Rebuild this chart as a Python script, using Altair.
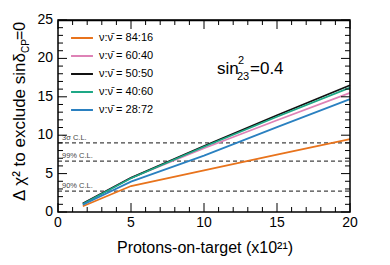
import altair as alt
import pandas as pd

# ---- data ----
pot = [1.7, 5.0, 10.0, 15.0, 20.0]
ratios = ["84:16", "60:40", "50:50", "40:60", "28:72"]
colors = ["#e8731c", "#de82b6", "#111111", "#1ea886", "#2a80c0"]
chi2 = {
    "84:16": [0.75, 3.38, 5.42, 7.46, 9.5],
    "60:40": [1.1, 4.45, 8.3, 11.95, 15.5],
    "50:50": [1.1, 4.45, 8.6, 12.6, 16.5],
    "40:60": [1.05, 4.4, 8.5, 12.4, 16.2],
    "28:72": [0.95, 3.95, 7.35, 11.05, 14.7],
}
cl_values = [9.0, 6.63, 2.71]
cl_labels = ["3σ C.L.", "99% C.L.", "90% C.L."]
x_ticks = list(range(0, 21))
y_ticks = list(range(0, 26))
x_labels = [0, 5, 10, 15, 20]
y_labels = [0, 5, 10, 15, 20, 25]

FONT = "Liberation Sans"
W, H = 292, 192

labels = ["ν:ν\u0304 = " + r for r in ratios]
rows = []
for r, lab in zip(ratios, labels):
    for x, y in zip(pot, chi2[r]):
        rows.append({"pot": x, "chi2": y, "series": lab})
df = pd.DataFrame(rows)

xs = alt.Scale(domain=[0, 20], nice=False, zero=False)
ys = alt.Scale(domain=[0, 25], nice=False, zero=False)

lines = alt.Chart(df).mark_line(strokeWidth=1.8).encode(
    x=alt.X("pot:Q", scale=xs, axis=None),
    y=alt.Y("chi2:Q", scale=ys, axis=None),
    color=alt.Color("series:N", scale=alt.Scale(domain=labels, range=colors),
                    legend=alt.Legend(orient="none", legendX=12, legendY=6, title=None,
                                      symbolType="stroke", symbolSize=480, symbolStrokeWidth=2,
                                      labelFontSize=11, labelFont=FONT, labelColor="black",
                                      rowPadding=1, padding=0, symbolOffset=0, labelOffset=5)),
    order=alt.Order("series:N"),
)

cl_df = pd.DataFrame({"v": cl_values, "lab": cl_labels})
cl_rules = alt.Chart(cl_df).mark_rule(strokeDash=[4, 3], strokeWidth=1.2, color="#444").encode(
    y=alt.Y("v:Q", scale=ys, axis=None), x=alt.value(0), x2=alt.value(W))
cl_text = alt.Chart(cl_df).mark_text(align="left", baseline="bottom", fontSize=7.5, font=FONT,
                                      color="#444", dx=4, dy=-1).encode(
    y=alt.Y("v:Q", scale=ys, axis=None), x=alt.value(0), text="lab:N")

xt = pd.DataFrame({"t": x_ticks, "major": [t % 5 == 0 for t in x_ticks]})
yt = pd.DataFrame({"t": y_ticks, "major": [t % 5 == 0 for t in y_ticks]})
tick_layers = []
for major, ln in [(True, 9), (False, 5)]:
    xd = alt.Chart(xt).transform_filter(alt.datum.major == major)
    yd = alt.Chart(yt).transform_filter(alt.datum.major == major)
    tick_layers += [
        xd.mark_rule(color="black", strokeWidth=1).encode(
            x=alt.X("t:Q", scale=xs, axis=None), y=alt.value(H), y2=alt.value(H - ln)),
        xd.mark_rule(color="black", strokeWidth=1).encode(
            x=alt.X("t:Q", scale=xs, axis=None), y=alt.value(0.5), y2=alt.value(ln)),
        yd.mark_rule(color="black", strokeWidth=1).encode(
            y=alt.Y("t:Q", scale=ys, axis=None), x=alt.value(0), x2=alt.value(ln)),
        yd.mark_rule(color="black", strokeWidth=1).encode(
            y=alt.Y("t:Q", scale=ys, axis=None), x=alt.value(W), x2=alt.value(W - ln)),
    ]

xl = pd.DataFrame({"v": x_labels})
yl = pd.DataFrame({"v": y_labels})
x_lab = alt.Chart(xl).mark_text(baseline="top", align="center", fontSize=14, font=FONT,
                                color="black").encode(
    x=alt.X("v:Q", scale=xs, axis=None), y=alt.value(H + 4), text=alt.Text("v:Q"))
y_lab = alt.Chart(yl).mark_text(baseline="middle", align="right", fontSize=14, font=FONT,
                                color="black").encode(
    y=alt.Y("v:Q", scale=ys, axis=None), x=alt.value(-5), text=alt.Text("v:Q"))

frame_top = alt.Chart(pd.DataFrame({"a": [0]})).mark_rule(color="black", strokeWidth=1.5).encode(
    x=alt.value(0), x2=alt.value(W), y=alt.value(0.5))
frame = alt.Chart(pd.DataFrame({"a": [0]})).mark_rect(
    fillOpacity=0, stroke="black", strokeWidth=1.5).encode(
    x=alt.value(0), x2=alt.value(W), y=alt.value(0), y2=alt.value(H))

def txt(s, x, y, size, angle=0, align="left"):
    return alt.Chart(pd.DataFrame({"s": [s]})).mark_text(
        align=align, baseline="alphabetic", fontSize=size, font=FONT, color="black",
        angle=angle).encode(text="s:N", x=alt.value(x), y=alt.value(y))

annot = [
    txt("sin", 159, 54, 17),
    txt("2", 180, 44, 11),
    txt("23", 179, 60, 11),
    txt("=0.4", 192, 54, 17),
    txt("Protons-on-target (x10²¹)", W / 2 + 1, 233, 16, align="center"),
    txt("Δ χ² to exclude sinδ", -33, 33, 17, angle=270, align="right"),
    txt("CP", -29, 33, 10, angle=270, align="left"),
    txt("=0", -33, 20, 16, angle=270, align="left"),
]

chart = alt.layer(cl_rules, cl_text, lines, *tick_layers, frame, frame_top, x_lab, y_lab,
                  *annot).properties(
    width=W, height=H,
    autosize=alt.AutoSizeParams(type="none"),
    padding={"left": 50, "top": 12, "right": 32, "bottom": 45},
).configure_view(stroke=None)

chart.save("out.html", embed_options={"renderer": "svg", "actions": False})
